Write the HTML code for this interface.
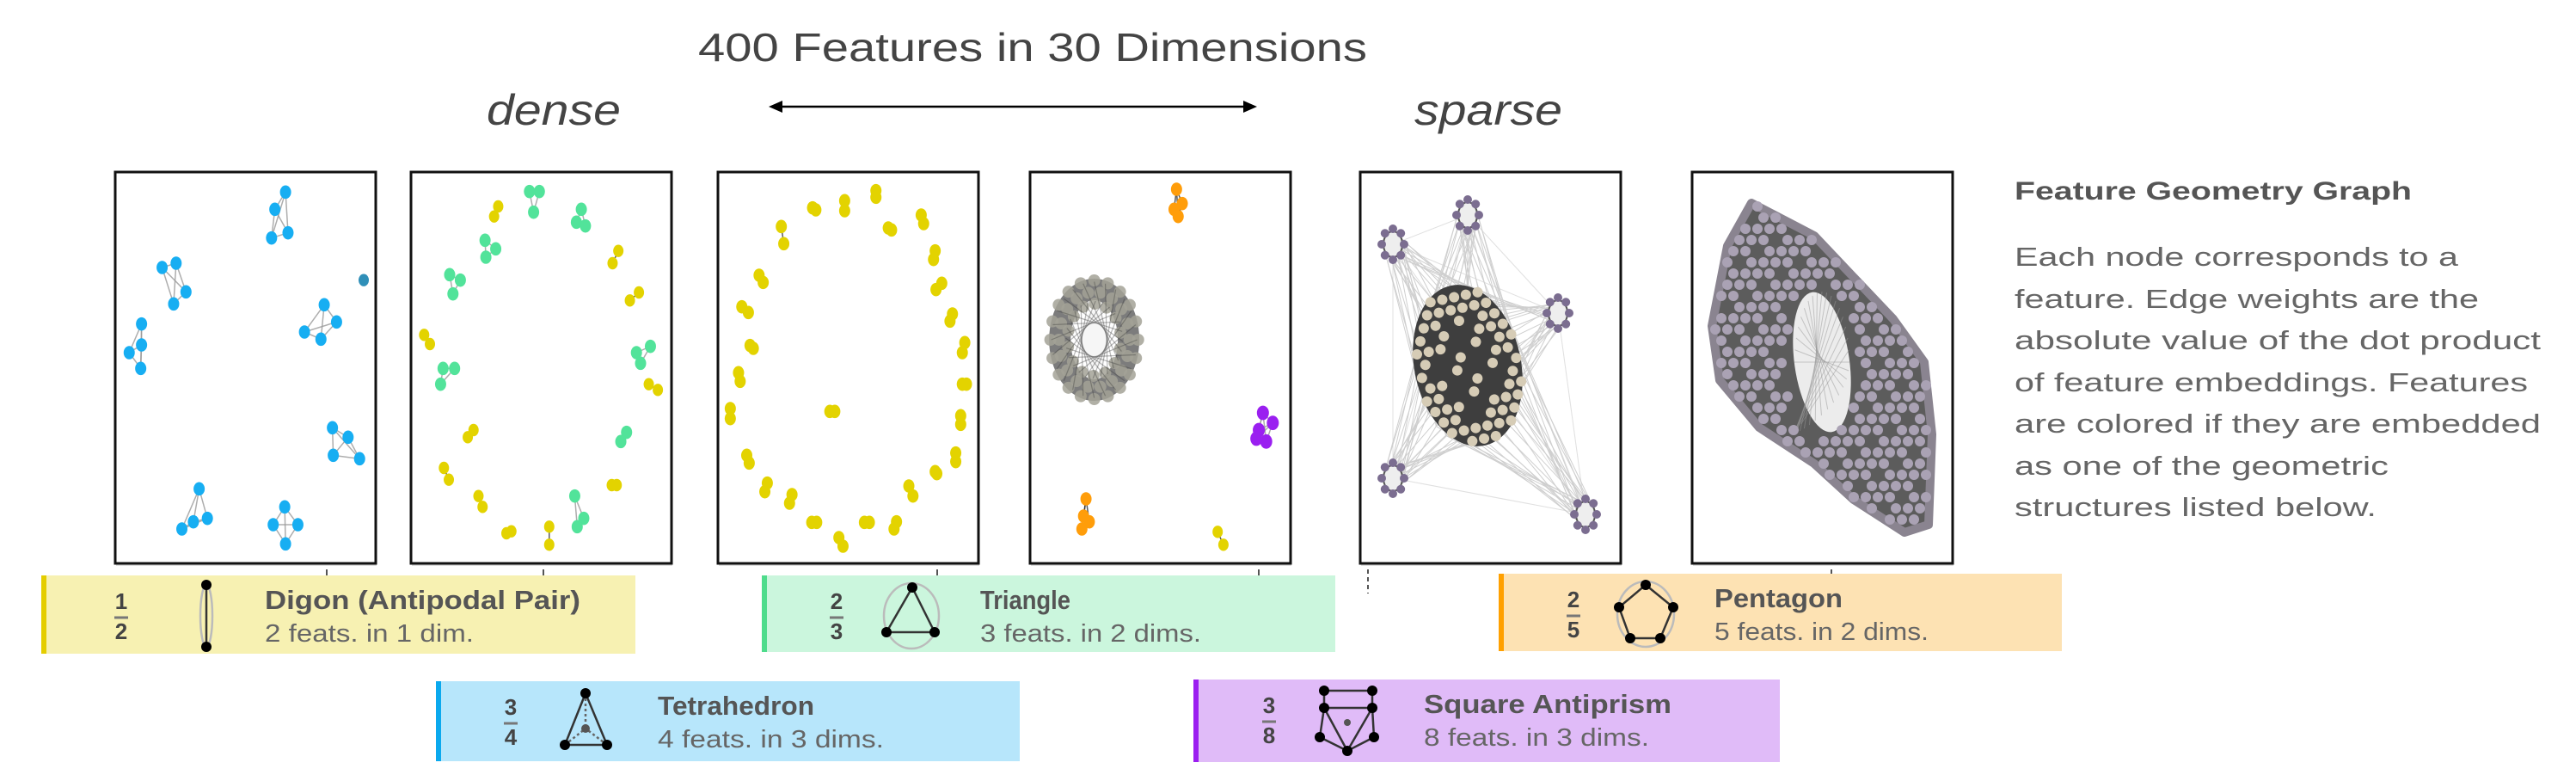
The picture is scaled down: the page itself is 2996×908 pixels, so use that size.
<!DOCTYPE html>
<html><head><meta charset="utf-8"><style>
html,body{margin:0;padding:0;background:#fff;}
svg{display:block;font-family:"Liberation Sans",sans-serif;}
</style></head><body>
<svg id="fig" width="2996" height="908" viewBox="0 0 2996 908" xmlns="http://www.w3.org/2000/svg">
<text x="812" y="71" font-size="46" fill="#444" textLength="778" lengthAdjust="spacingAndGlyphs">400 Features in 30 Dimensions</text>
<text x="566" y="145" font-size="50" font-style="italic" fill="#444" textLength="156" lengthAdjust="spacingAndGlyphs">dense</text>
<text x="1645" y="145" font-size="50" font-style="italic" fill="#444" textLength="172" lengthAdjust="spacingAndGlyphs">sparse</text>
<g stroke="#000" stroke-width="2.5" fill="#000">
<line x1="902" y1="124" x2="1454" y2="124"/>
<polygon points="894,124 910,117 910,131" stroke="none"/>
<polygon points="1462,124 1446,117 1446,131" stroke="none"/>
</g>
<g id="panels"></g>
<g fill="#666" font-size="31">
<text x="2343" y="232" font-weight="bold" font-size="30" fill="#555" textLength="462" lengthAdjust="spacingAndGlyphs">Feature Geometry Graph</text>
<text x="2343" y="309" textLength="516" lengthAdjust="spacingAndGlyphs">Each node corresponds to a</text>
<text x="2343" y="358" textLength="540" lengthAdjust="spacingAndGlyphs">feature. Edge weights are the</text>
<text x="2343" y="406" textLength="612" lengthAdjust="spacingAndGlyphs">absolute value of the dot product</text>
<text x="2343" y="455" textLength="597" lengthAdjust="spacingAndGlyphs">of feature embeddings. Features</text>
<text x="2343" y="503" textLength="612" lengthAdjust="spacingAndGlyphs">are colored if they are embedded</text>
<text x="2343" y="552" textLength="435" lengthAdjust="spacingAndGlyphs">as one of the geometric</text>
<text x="2343" y="600" textLength="421" lengthAdjust="spacingAndGlyphs">structures listed below.</text>
</g>
<g id="legend"></g>
</svg>
<script>
// ---------- data (panel-space coordinates) ----------
const p1Groups = [
 [[207,70],[194,130],[190,230],[210,212]],
 [[57,333],[74,318],[86,418],[71,460]],
 [[254,463],[269,523],[230,558],[250,583]],
 [[32,530],[32,603],[17,630],[31,685]],
 [[264,892],[283,925],[265,988],[297,1000]],
 [[102,1105],[112,1208],[95,1220],[81,1245]],
 [[206,1168],[192,1230],[222,1230],[207,1297]]
];
const p1Single = [[302,377]];
const p2Green = [
 [[144,68],[156,68],[149,140]],[[207,130],[201,175],[212,188]],[[90,238],[103,268],[91,297]],
 [[47,358],[60,377],[51,425]],[[291,608],[274,630],[279,667]],[[39,685],[53,685],[36,740]],
 [[262,908],[255,940]],[[199,1130],[210,1208],[202,1237]]
];
const p2Yellow = [
 [[106,120],[101,155]],[[252,275],[245,318]],[[277,420],[266,448]],[[16,568],[23,600]],
 [[289,740],[300,760]],[[76,900],[69,925]],[[40,1032],[46,1073]],[[82,1130],[87,1168]],
 [[244,1092],[250,1092]],[[122,1253],[116,1260]],[[168,1237],[168,1300]]
];
const p3Yellow = [
 [[192,65],[192,88]],[[154,100],[154,135]],[[115,125],[119,132]],[[247,150],[250,180]],
 [[77,190],[80,250]],[[207,195],[211,202]],[[264,275],[262,305]],[[50,360],[55,385]],
 [[272,388],[265,410]],[[29,470],[37,490]],[[285,495],[282,520]],[[39,605],[43,615]],
 [[300,595],[297,630]],[[25,700],[27,730]],[[297,740],[302,740]],[[15,825],[15,860]],
 [[136,835],[142,835]],[[295,850],[295,880]],[[35,988],[38,1015]],[[289,980],[289,1010]],
 [[264,1045],[266,1052]],[[60,1085],[57,1115]],[[90,1125],[87,1155]],[[232,1095],[237,1130]],
 [[114,1222],[120,1222]],[[178,1222],[184,1222]],[[217,1220],[214,1245]],[[147,1275],[152,1305]]
];
const p4Orange = [[[178,60],[185,110],[175,130],[180,155]],[[68,1140],[65,1200],[72,1220],[63,1245]]];
const p4Purple = [[[283,840],[295,875],[278,900],[287,940],[275,930]]];
const p4Yellow = [[[228,1255],[235,1300]]];
const p4Ring = {cx:78, cy:585, rx:58, ry:225};
const p5Rings = [[38,84],[125,50],[230,164],[38,356],[262,398]];
const p5Blob = {cx:125, cy:225, rx:62, ry:95};
const p6Outline = [[69,36],[142,74],[234,171],[270,221],[279,305],[275,410],[247,419],[188,381],[142,339],[78,297],[32,242],[23,179],[41,86]];
const p6Hole = {cx:151, cy:221, rx:32, ry:82};

const panelX = [134,478,835,1198,1582,1968];
const tickX = [380,632,1090,1464,1591,2130];
const PT=200, PW=303, PH=455;

// ---------- helpers ----------
const NS="http://www.w3.org/2000/svg";
function mk(tag, attrs, parent){const e=document.createElementNS(NS,tag);for(const k in attrs)e.setAttribute(k,attrs[k]);parent.appendChild(e);return e;}
const sx=(v)=>v*0.957, sy=(v)=>v/3;
const panelsG=document.getElementById('panels');

function panelFrame(i){
  const g=mk('g',{transform:`translate(${panelX[i]},${PT})`},panelsG);
  
  
  mk('rect',{x:1,y:5,width:PW,height:PH-2,fill:'#ddd'},g);
  mk('rect',{x:0,y:0,width:PW,height:PH,fill:'#fff',stroke:'#111','stroke-width':3},g);
  return g;
}
function drawGroup(g, pts, color, r, edgeColor){
  for(let a=0;a<pts.length;a++)for(let b=a+1;b<pts.length;b++)
    mk('line',{x1:sx(pts[a][0]),y1:sy(pts[a][1]),x2:sx(pts[b][0]),y2:sy(pts[b][1]),stroke:edgeColor||'#999','stroke-width':1.5,opacity:0.8},g);
  for(const p of pts){
    const c=mk('ellipse',{cx:sx(p[0]),cy:sy(p[1]),rx:r,ry:r*1.2,fill:color},g);
    
    
  }
}
// panel 1
let g=panelFrame(0);
p1Groups.forEach(gr=>drawGroup(g,gr,'#17aef2',6.5));
p1Single.forEach(p=>drawGroup(g,[p],'#2f8fb8',6));
// panel 2
g=panelFrame(1);
p2Yellow.forEach(gr=>drawGroup(g,gr,'#e3d300',6,'#333'));
p2Green.forEach(gr=>drawGroup(g,gr,'#52e39a',6.5));
// panel 3
g=panelFrame(2);
p3Yellow.forEach(gr=>drawGroup(g,gr,'#e3d300',6.5,'#333'));
// panel 4
g=panelFrame(3);
(function(){
  const R=p4Ring, cx=sx(R.cx), cy=sy(R.cy), rx=sx(R.rx), ry=sy(R.ry);
  const ring=mk('g',{},g);
  
  
  mk('ellipse',{cx,cy,rx:rx*0.72,ry:ry*0.78,fill:'none',stroke:'#444','stroke-width':rx*0.45,opacity:0.7},ring);
  mk('ellipse',{cx,cy,rx:rx*0.28,ry:ry*0.45,fill:'#f6f6f6'},ring);
  for(let k=0;k<3;k++){const f=[0.92,0.74,0.56][k];const n=[20,18,14][k];
    for(let j=0;j<n;j++){const t=j/n*2*Math.PI+k*0.35;
      mk('circle',{cx:cx+rx*f*Math.cos(t),cy:cy+ry*f*Math.sin(t),r:7,fill:'#a3a296',opacity:0.85},ring);}}
  for(let j=0;j<24;j++){const t=j/24*2*Math.PI, u=t+2.4;
    mk('line',{x1:cx+rx*0.9*Math.cos(t),y1:cy+ry*0.9*Math.sin(t),x2:cx+rx*0.6*Math.cos(u),y2:cy+ry*0.6*Math.sin(u),stroke:'#333','stroke-width':1.2,opacity:0.35},ring);}
})();
p4Orange.forEach(gr=>drawGroup(g,gr,'#ff9d0a',6.5,'#333'));
p4Purple.forEach(gr=>drawGroup(g,gr,'#9a1ff0',7));
p4Yellow.forEach(gr=>drawGroup(g,gr,'#e3d300',6,'#333'));
// panel 5
g=panelFrame(4);
(function(){
  const B=p5Blob;
  const edges=mk('g',{stroke:'#777','stroke-width':1,opacity:0.35},g);
  p5Rings.forEach(r=>{
    for(let j=0;j<28;j++){const t=j/28*2*Math.PI;
      mk('line',{x1:r[0]+12*Math.cos(t*3),y1:r[1]+12*Math.sin(t*3),x2:B.cx+B.rx*0.95*Math.cos(t),y2:B.cy+B.ry*0.95*Math.sin(t)},edges);}
    p5Rings.forEach(q=>{if(q!==r)mk('line',{x1:r[0],y1:r[1],x2:q[0],y2:q[1],opacity:0.4},edges);});
  });
  const blob=mk('g',{transform:`rotate(-12 ${B.cx} ${B.cy})`},g);
  
  
  mk('ellipse',{cx:B.cx,cy:B.cy,rx:B.rx,ry:B.ry,fill:'#3e3e3e'},blob);
  let row=0;
  for(let y=-B.ry;y<=B.ry;y+=14,row++)for(let x=-B.rx+(row%2)*7;x<=B.rx;x+=14){
    const d=(x*x)/(B.rx*B.rx)+(y*y)/(B.ry*B.ry);
    if(d<=1.0&&(d>0.5||(((row+Math.round(x/14))%3)===0)))mk('circle',{cx:B.cx+x,cy:B.cy+y,r:6,fill:'#d6ccb6'},blob);}
  p5Rings.forEach(r=>{
    const rg=mk('g',{},g);
    
    
    mk('ellipse',{cx:r[0],cy:r[1],rx:11,ry:15,fill:'#eee',stroke:'#555','stroke-width':2},rg);
    for(let j=0;j<8;j++){const t=j/8*2*Math.PI;
      mk('circle',{cx:r[0]+13*Math.cos(t),cy:r[1]+18*Math.sin(t),r:5,fill:'#7b6d90'},rg);}
  });
})();
// panel 6
g=panelFrame(5);
(function(){
  const poly=p6Outline;
  const pts=poly.map(p=>p.join(',')).join(' ');
  const band=mk('g',{},g);
  
  
  mk('polygon',{points:pts,fill:'#5c5c5c',stroke:'#8a8490','stroke-width':10,'stroke-linejoin':'round'},band);
  const H=p6Hole;
  mk('ellipse',{cx:H.cx,cy:H.cy,rx:H.rx,ry:H.ry,fill:'#ececec',transform:`rotate(-8 ${H.cx} ${H.cy})`},band);
  for(let j=0;j<18;j++){const t=j/18*Math.PI;
    mk('line',{x1:H.cx-H.rx*Math.cos(t),y1:H.cy-H.ry*Math.sin(t),x2:H.cx+H.rx*Math.cos(t*1.3),y2:H.cy+H.ry*Math.sin(t*0.7),stroke:'#999','stroke-width':1,opacity:0.5},band);}
  function inside(x,y){let c=false;for(let i=0,j=poly.length-1;i<poly.length;j=i++){const a=poly[i],b=poly[j];
    if((a[1]>y)!==(b[1]>y)&&x<(b[0]-a[0])*(y-a[1])/(b[1]-a[1])+a[0])c=!c;}return c;}
  let row=0;
  for(let y=40;y<420;y+=13,row++)for(let x=20+(row%2)*7;x<285;x+=14){
    const dh=((x-H.cx)**2)/((H.rx+10)**2)+((y-H.cy)**2)/((H.ry+8)**2);
    if(inside(x,y)&&dh>1&&((x+2*y)%5!==0))mk('circle',{cx:x,cy:y,r:6,fill:'#aaa2b4'},band);}
})();
// ticks under panels
tickX.forEach((x,i)=>{
  const t=mk('line',{x1:x,y1:662,x2:x,y2:i===4?690:672,stroke:'#555','stroke-width':2,'stroke-dasharray':i===4?'5,4':'none'},panelsG);
  
  
});

// ---------- legend ----------
const legNames=['digon','triangle','tetrahedron','pentagon','square-antiprism'];
const legTitles=['Digon (Antipodal Pair)','Triangle','Tetrahedron','Pentagon','Square Antiprism'];
const legSubs=['2 feats. in 1 dim.','3 feats. in 2 dims.','4 feats. in 3 dims.','5 feats. in 2 dims.','8 feats. in 3 dims.'];
const legNum=['1','2','3','2','3'], legDen=['2','3','4','5','8'];
const legBox=[[48,669,691,91],[886,669,667,89],[507,792,679,93],[1743,667,655,90],[1388,790,682,96]];
const legBg=['#f7f1b2','#cbf6dd','#b7e6fb','#fde2b3','#e0bbf8'];
const legBar=['#e4cd00','#4fdc8c','#0aa9ee','#ffa000','#9b1ef0'];
const fracX=[141,973,594,1830,1476], iconX=[240,1061,681,1914,1567], textX=[308,1140,765,1994,1656];
const titleW=[367,105,182,149,288], subW=[243,257,263,249,262];
const L=document.getElementById('legend');
legBox.forEach((b,i)=>{
  const gg=mk('g',{},L);
  
  
  mk('rect',{x:b[0],y:b[1],width:b[2],height:b[3],fill:legBg[i]},gg);
  mk('rect',{x:b[0],y:b[1],width:6,height:b[3],fill:legBar[i]},gg);
  const top=b[1];
  const n=mk('text',{x:fracX[i],y:top+39,'font-size':26,'font-weight':'bold',fill:'#444','text-anchor':'middle'},gg);n.textContent=legNum[i];
  mk('line',{x1:fracX[i]-8,y1:top+49,x2:fracX[i]+8,y2:top+49,stroke:'#777','stroke-width':3},gg);
  const d=mk('text',{x:fracX[i],y:top+74,'font-size':26,'font-weight':'bold',fill:'#444','text-anchor':'middle'},gg);d.textContent=legDen[i];
  const t=mk('text',{x:textX[i],y:top+39,'font-size':31,'font-weight':'bold',fill:'#555',textLength:titleW[i],lengthAdjust:'spacingAndGlyphs'},gg);t.textContent=legTitles[i];
  const s=mk('text',{x:textX[i],y:top+77,'font-size':29,fill:'#666',textLength:subW[i],lengthAdjust:'spacingAndGlyphs'},gg);s.textContent=legSubs[i];
});
// legend icons
(function(){
  const ic=mk('g',{stroke:'#333','stroke-width':2.5,fill:'none'},L);
  
  
  const dot=(x,y)=>mk('circle',{cx:x,cy:y,r:6,fill:'#000',stroke:'none'},ic);
  mk('ellipse',{cx:240,cy:716,rx:7,ry:36,stroke:'#bbb'},ic);
  mk('line',{x1:240,y1:680,x2:240,y2:752},ic); dot(240,680); dot(240,752);
  mk('ellipse',{cx:1060,cy:716,rx:32,ry:38,stroke:'#bbb'},ic);
  mk('polygon',{points:'1061,683 1031,735 1087,735'},ic); dot(1061,683);dot(1031,735);dot(1087,735);
  mk('polygon',{points:'681,806 657,866 706,866'},ic);
  mk('line',{x1:681,y1:806,x2:681,y2:847,'stroke-dasharray':'3,3',stroke:'#666'},ic);
  mk('line',{x1:657,y1:866,x2:681,y2:847,'stroke-dasharray':'3,3',stroke:'#666'},ic);
  mk('line',{x1:706,y1:866,x2:681,y2:847,'stroke-dasharray':'3,3',stroke:'#666'},ic);
  mk('circle',{cx:681,cy:847,r:5,fill:'#555',stroke:'none'},ic);
  dot(681,806);dot(657,866);dot(706,866);
  mk('ellipse',{cx:1914,cy:714,rx:33,ry:38,stroke:'#bbb'},ic);
  mk('polygon',{points:'1914,680 1946,706 1931,742 1896,742 1883,706'},ic);
  [[1914,680],[1946,706],[1931,742],[1896,742],[1883,706]].forEach(p=>dot(p[0],p[1]));
  const sa=[[1540,803],[1596,803],[1540,823],[1596,823],[1535,857],[1598,857],[1567,873]];
  mk('polyline',{points:'1540,803 1540,823 1535,857 1567,873 1598,857 1596,823 1596,803'},ic);
  mk('line',{x1:1540,y1:803,x2:1596,y2:803},ic);mk('line',{x1:1540,y1:823,x2:1596,y2:823},ic);
  mk('line',{x1:1540,y1:823,x2:1567,y2:873},ic);mk('line',{x1:1596,y1:823,x2:1567,y2:873},ic);
  mk('circle',{cx:1567,cy:840,r:4,fill:'#555',stroke:'none'},ic);
  sa.forEach(p=>dot(p[0],p[1]));
})();
</script>
</body></html>
